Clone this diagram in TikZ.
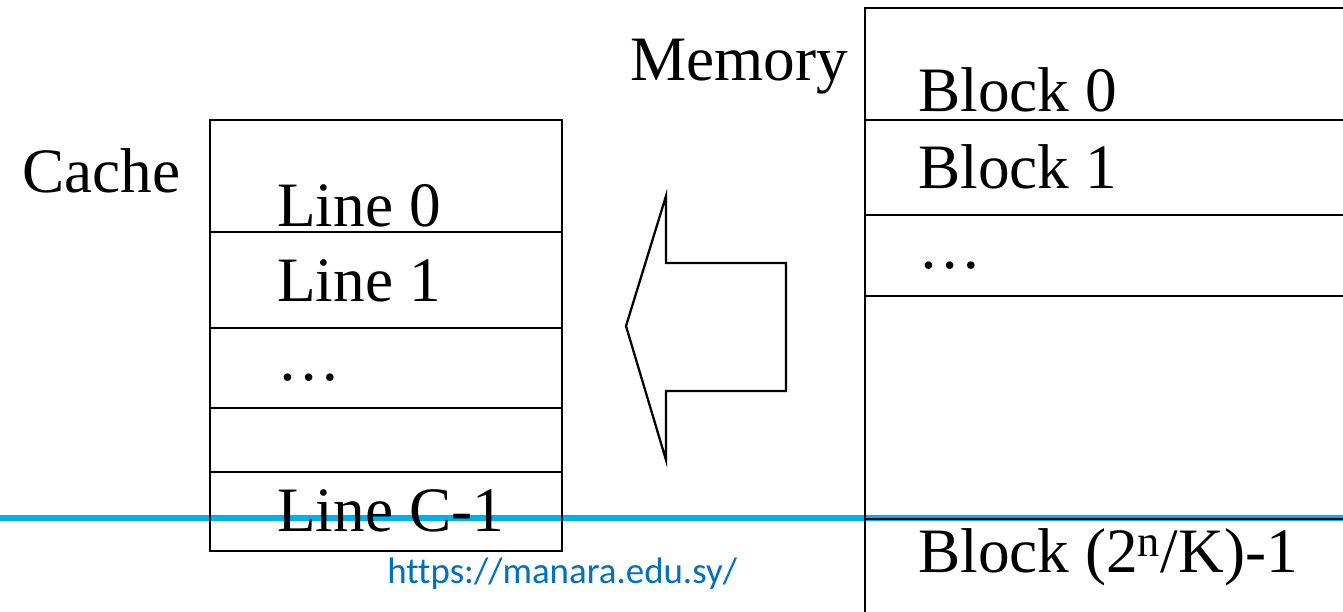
\documentclass[tikz,border=0pt]{standalone}
\usepackage{fontspec}
\setmainfont{Liberation Serif}
\newfontfamily\urlfont[Ligatures=NoCommon]{Carlito}
\definecolor{lineblue}{HTML}{00B0F0}
\definecolor{linkblue}{HTML}{0070C0}
\tikzset{
    lbl/.style={anchor=base west, inner sep=0pt, font=\fontsize{36}{43}\selectfont},
    cell/.style={line width=1.3pt},
}
\begin{document}
\begin{tikzpicture}[x=0.02cm, y=-0.02cm]
        %坐标按像素, y 轴向下
        \useasboundingbox (0, 0) rectangle (1343, 612);
        \clip (0, 0) rectangle (1343, 612);
        \draw[lineblue, line width=3.4pt] (0, 518) -- (1343, 518);
        %缓存
        \draw[cell] (210, 120) rectangle (562, 551);
        \foreach \y in {232, 328, 408, 472} \draw[cell] (210, \y) -- (562, \y);
        %主存, 右边和下边在画面外
        \draw[cell] (1400, 8) -- (865, 8) -- (865, 650);
        \foreach \y in {120, 215, 296, 519} \draw[cell] (865, \y) -- (1400, \y);
        %空心箭头
        \draw[cell, line join=miter] (626, 326) -- (666, 196) -- (666, 263) -- (786, 263) %
            -- (786, 391) -- (666, 391) -- (666, 460) -- cycle;
        \node[lbl] (cache) at (22, 192) {Cache};
        \node[lbl] (memory) at (630, 80) {Memory};
        \node[lbl] (line0) at (277, 226) {Line 0};
        \node[lbl] (line1) at (277, 301) {Line 1};
        \node[lbl] (ldots) at (277, 380) {…};
        \node[lbl] (lineC) at (277, 531) {Line C-1};
        \node[lbl] (block0) at (918, 111) {Block 0};
        \node[lbl] (block1) at (918, 188) {Block 1};
        \node[lbl] (bdots) at (918, 268) {…};
        \node[lbl] (blockN) at (918, 572) {Block (2\textsuperscript{n}/K)-1};
        \node[anchor=base west, inner sep=0pt, text=linkblue, font=\urlfont\fontsize{21}{25}\selectfont] %
            (url) at (387, 583) {https://manara.edu.sy/};
    \end{tikzpicture}
\end{document}
